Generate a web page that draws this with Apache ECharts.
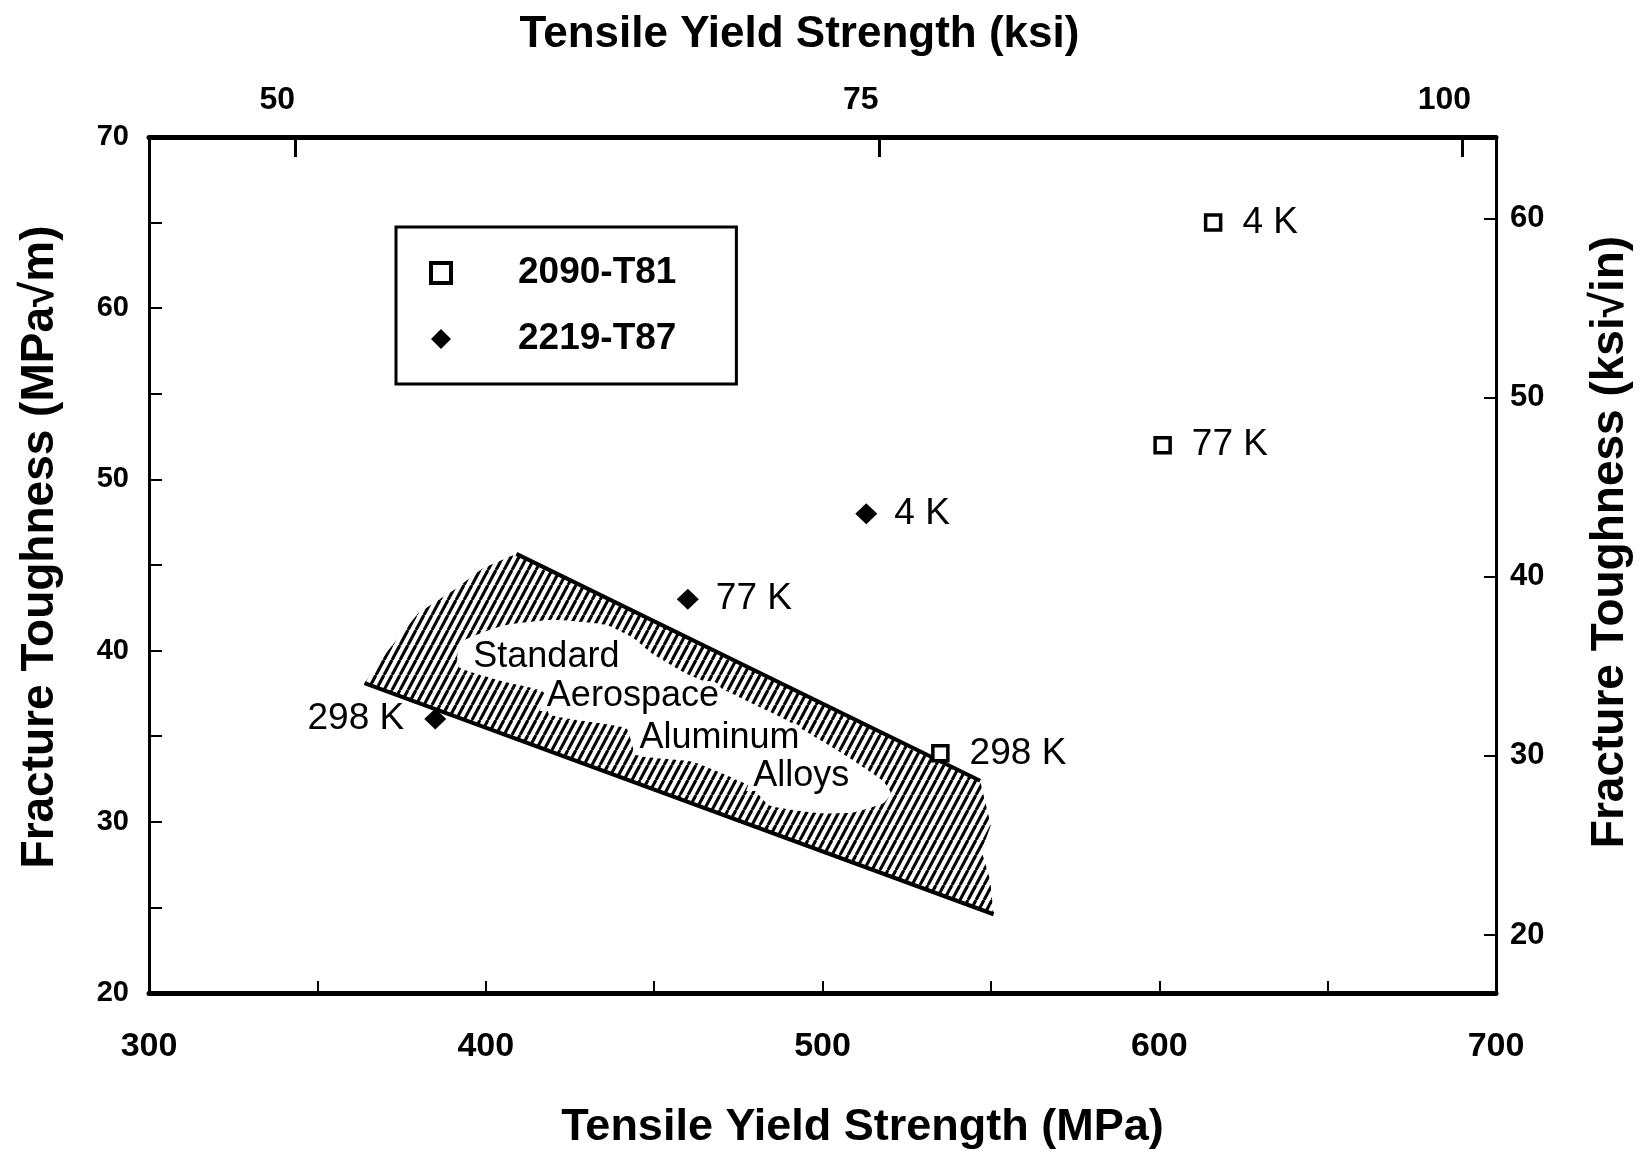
<!DOCTYPE html>
<html>
<head>
<meta charset="utf-8">
<script src="https://cdn.jsdelivr.net/npm/echarts@6/dist/echarts.min.js"></script>
<style>
  html, body { margin: 0; padding: 0; background: #fff; }
  #main { width: 1650px; height: 1154px; }
</style>
</head>
<body>
<div id="main"></div>
<script>
var SANS = '"Liberation Sans", Arial, sans-serif';

// measured points (MPa, MPa*sqrt(m))
var tempLabels = ['4 K', '77 K', '298 K'];
var alloy2090X = [616, 601, 535];
var alloy2090Y = [65, 52, 34];
var alloy2219X = [513, 460, 385];
var alloy2219Y = [48, 43, 36];

// tick labels
var mpaLabels = [300, 400, 500, 600, 700];
var ksiLabels = [50, 75, 100];
var toughLabels = [20, 30, 40, 50, 60, 70];
var ksiInLabels = [20, 30, 40, 50, 60];

// "standard aerospace aluminum alloys" band outline
var bandX = [364.0, 371.0, 380.0, 391.0, 399.0, 409.1, 546.8, 550.0, 547.2, 549.8, 550.8];
var bandY = [38.1, 40.0, 42.2, 43.6, 44.8, 45.65, 32.4, 29.8, 28.3, 26.6, 24.6];
var upperEdgeX = [409.1, 546.8];
var upperEdgeY = [45.65, 32.4];
var lowerEdgeX = [364.0, 550.8];
var lowerEdgeY = [38.1, 24.6];
// clear area inside the band where the text sits
var blobX = [391.5, 393.2, 400.2, 406.1, 419.9, 435.8, 443.7, 449.6, 459.6, 469.4, 479.3, 489.3, 499.1, 509.0, 517.9, 520.3,
             518.2, 509.0, 499.1, 484.3, 478.4, 461.5, 444.7, 441.7, 419.0, 417.0, 405.1, 392.2];
var blobY = [39.65, 40.55, 41.15, 41.50, 41.80, 41.50, 40.75, 39.80, 38.65, 37.85, 36.90, 35.95, 34.80, 33.60, 32.40, 31.68,
             31.10, 30.55, 30.50, 30.95, 32.10, 33.50, 33.90, 35.45, 36.25, 37.60, 38.20, 39.00];
var bandText = ['Standard', 'Aerospace', 'Aluminum', 'Alloys'];
var bandTextX = [418.0, 443.7, 469.4, 493.7];
var bandTextY = [39.65, 37.32, 34.89, 32.65];

// hatch pattern
var hatch = document.createElement('canvas');
hatch.width = 8;
hatch.height = 15;
var hc = hatch.getContext('2d');
hc.strokeStyle = '#000';
hc.lineWidth = 3.1;
[-8, 0, 8].forEach(function (dx) {
  hc.beginPath();
  hc.moveTo(dx, 15);
  hc.lineTo(dx + 8, 0);
  hc.stroke();
});

var chart = echarts.init(document.getElementById('main'));

function pts(xs, ys, api) {
  return xs.map(function (x, i) { return api.coord([x, ys[i]]); });
}

function pointData(xs, ys, leftIdx) {
  return xs.map(function (x, i) {
    var d = { value: [x, ys[i]] };
    if (i === leftIdx) d.label = { position: 'left', distance: 20 };
    return d;
  });
}

var option = {
  backgroundColor: '#fff',
  animation: false,
  grid: { left: 149, right: 154, top: 137, bottom: 161, outerBoundsMode: 'none' },
  legend: {
    orient: 'vertical',
    left: 396,
    top: 227,
    padding: [26, 60, 25, 33],
    itemGap: 26,
    itemWidth: 20,
    itemHeight: 20,
    borderColor: '#000',
    borderWidth: 3,
    selectedMode: false,
    textStyle: { fontSize: 37, fontWeight: 'bold', fontFamily: SANS, color: '#000', padding: [0, 0, 0, 62], lineHeight: 40 },
    data: [
      { name: '2090-T81', itemStyle: { color: '#fff', borderColor: '#000', borderWidth: 4 } },
      { name: '2219-T87' }
    ]
  },
  xAxis: [
    {
      type: 'value', position: 'bottom', min: 300, max: 700, interval: 50,
      name: 'Tensile Yield Strength (MPa)', nameLocation: 'middle', nameGap: 112,
      nameTextStyle: { fontSize: 45, fontWeight: 'bold', fontFamily: SANS, color: '#000', padding: [0, 0, 0, 80] },
      axisLine: { onZero: false, lineStyle: { color: '#000', width: 5 } },
      axisTick: { inside: true, length: 12, lineStyle: { color: '#000', width: 2 } },
      axisLabel: {
        margin: 37, fontSize: 34, fontWeight: 'bold', fontFamily: SANS, color: '#000',
        customValues: mpaLabels
      },
      splitLine: { show: false }
    },
    {
      type: 'value', position: 'top', min: 43.73, max: 101.44,
      name: 'Tensile Yield Strength (ksi)', nameLocation: 'middle', nameGap: 80,
      nameTextStyle: { fontSize: 44, fontWeight: 'bold', fontFamily: SANS, color: '#000', padding: [0, 46, 0, 0] },
      axisLine: { onZero: false, lineStyle: { color: '#000', width: 5 } },
      axisTick: { inside: true, length: 20, customValues: ksiLabels, lineStyle: { color: '#000', width: 3 } },
      axisLabel: {
        margin: 21, fontSize: 32, fontWeight: 'bold', fontFamily: SANS, color: '#000',
        customValues: ksiLabels, padding: [0, 36, 0, 0]
      },
      splitLine: { show: false }
    }
  ],
  yAxis: [
    {
      type: 'value', position: 'left', min: 20, max: 70, interval: 5,
      name: 'Fracture Toughness (MPa\u221Am)', nameLocation: 'middle', nameGap: 86, nameRotate: 90,
      nameTextStyle: { fontSize: 46, fontWeight: 'bold', fontFamily: SANS, color: '#000', padding: [0, 0, 0, 36] },
      axisLine: { onZero: false, lineStyle: { color: '#000', width: 3 } },
      axisTick: { inside: true, length: 13, lineStyle: { color: '#000', width: 2 } },
      axisLabel: {
        margin: 20, fontSize: 29, fontWeight: 'bold', fontFamily: SANS, color: '#000',
        customValues: toughLabels
      },
      splitLine: { show: false }
    },
    {
      type: 'value', position: 'right', min: 16.76, max: 64.56,
      name: 'Fracture Toughness (ksi\u221Ain)', nameLocation: 'middle', nameGap: 91, nameRotate: 90,
      nameTextStyle: { fontSize: 46, fontWeight: 'bold', fontFamily: SANS, color: '#000', padding: [0, 0, 0, 46] },
      axisLine: { onZero: false, lineStyle: { color: '#000', width: 3 } },
      axisTick: { inside: true, length: 12, customValues: ksiInLabels, lineStyle: { color: '#000', width: 2 } },
      axisLabel: {
        margin: 14, fontSize: 31, fontWeight: 'bold', fontFamily: SANS, color: '#000',
        customValues: ksiInLabels
      },
      splitLine: { show: false }
    }
  ],
  series: [
    {
      type: 'custom',
      silent: true,
      z: 1,
      xAxisIndex: 0,
      yAxisIndex: 0,
      data: [[bandX[0], bandY[0]]],
      renderItem: function (params, api) {
        var children = [
          { type: 'polygon', shape: { points: pts(bandX, bandY, api) }, style: { fill: { image: hatch, repeat: 'repeat' } } },
          { type: 'polygon', shape: { points: pts(blobX, blobY, api), smooth: 0.15 }, style: { fill: '#fff' } },
          { type: 'polyline', shape: { points: pts(upperEdgeX, upperEdgeY, api) }, style: { stroke: '#000', lineWidth: 4, fill: null } },
          { type: 'polyline', shape: { points: pts(lowerEdgeX, lowerEdgeY, api) }, style: { stroke: '#000', lineWidth: 4, fill: null } }
        ];
        bandText.forEach(function (t, i) {
          var p = api.coord([bandTextX[i], bandTextY[i]]);
          children.push({
            type: 'text', x: p[0], y: p[1],
            style: {
              text: t, fill: '#000', font: '36px ' + SANS, align: 'center', verticalAlign: 'middle',
              stroke: '#fff', lineWidth: 10, strokeFirst: true
            }
          });
        });
        return { type: 'group', children: children };
      }
    },
    {
      name: '2090-T81',
      type: 'scatter',
      z: 3,
      symbol: 'rect',
      symbolSize: 15,
      itemStyle: { color: '#fff', borderColor: '#000', borderWidth: 3.5, opacity: 1 },
      label: {
        show: true, position: 'right', distance: 20, color: '#000', fontSize: 37, fontFamily: SANS,
        formatter: function (p) { return tempLabels[p.dataIndex]; }
      },
      emphasis: { disabled: true },
      data: pointData(alloy2090X, alloy2090Y, -1)
    },
    {
      name: '2219-T87',
      type: 'scatter',
      z: 3,
      symbol: 'diamond',
      symbolSize: [22, 21],
      itemStyle: { color: '#000', opacity: 1 },
      label: {
        show: true, position: 'right', distance: 17, color: '#000', fontSize: 37, fontFamily: SANS,
        formatter: function (p) { return tempLabels[p.dataIndex]; }
      },
      emphasis: { disabled: true },
      data: pointData(alloy2219X, alloy2219Y, 2)
    }
  ]
};

chart.setOption(option);
</script>
</body>
</html>
